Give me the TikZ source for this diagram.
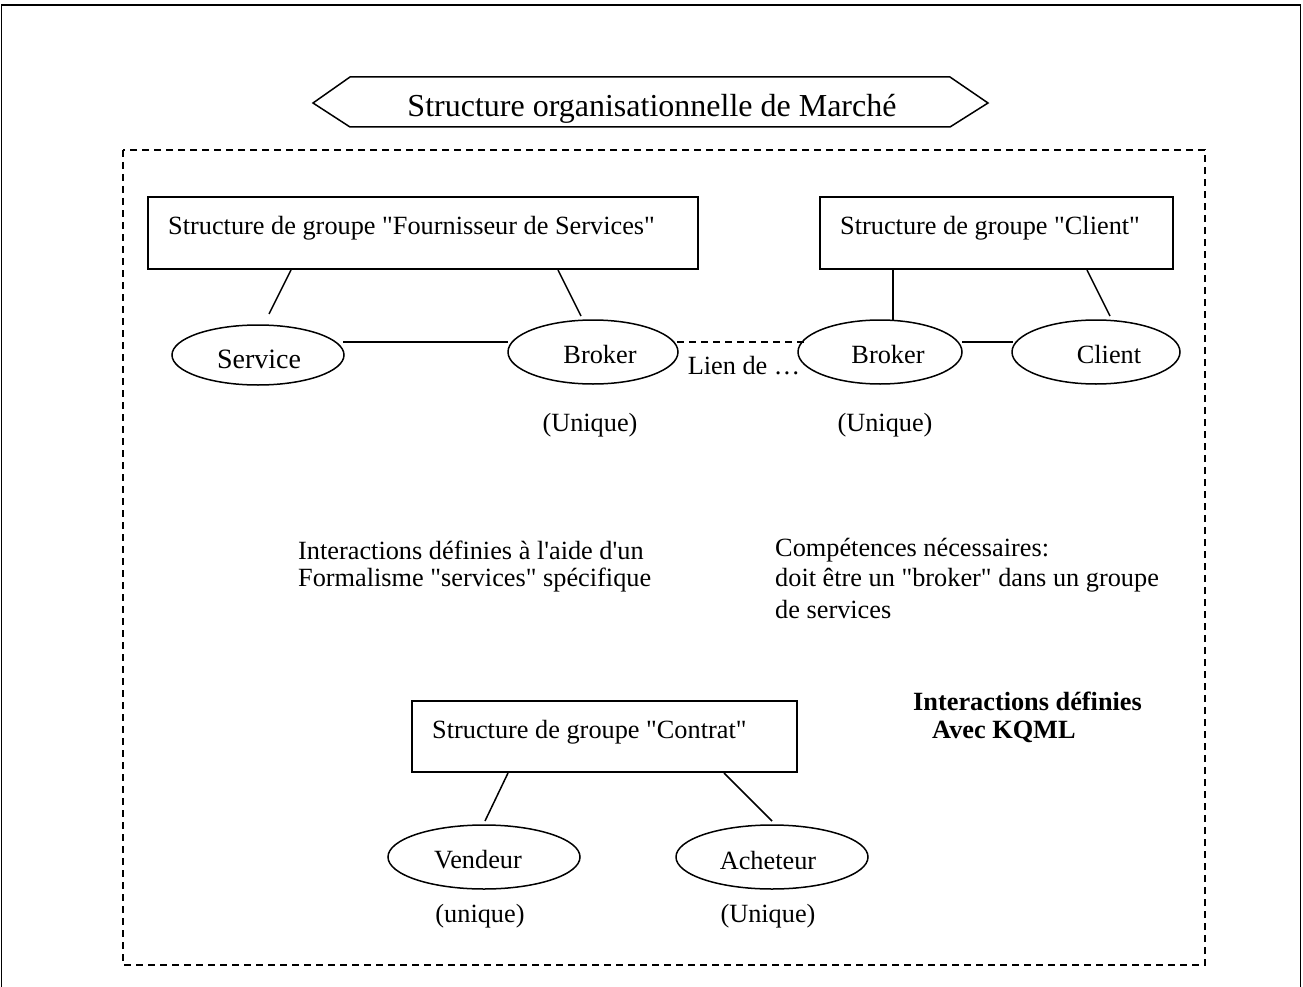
\documentclass[tikz,border=0pt]{standalone}
\usepackage{fontspec}
\setmainfont{Liberation Serif}[Ligatures=TeXOff]
\usetikzlibrary{shapes.geometric}
\tikzset{
  frame/.style={draw, line width=1.5pt},
  grpbox/.style={draw, line width=1.5pt},
  role/.style={draw, ellipse, line width=1.5pt, inner sep=0pt},
  link/.style={line width=1.5pt},
  dlink/.style={line width=1.5pt, dash pattern=on 7pt off 5pt},
  txt/.style={inner sep=0pt, yshift=-3pt, font=\fontsize{26.3}{31}\selectfont},
  ltxt/.style={txt, anchor=west},
}
\begin{document}
\begin{tikzpicture}[x=1pt, y=-1pt]
\useasboundingbox (0,0) rectangle (1303,987);
% outer page frame
\draw[frame] (1.5,987) -- (1.5,5) -- (1300.5,5) -- (1300.5,987);

% title banner
\draw[line width=1.5pt] (313,103) -- (350,77) -- (950,77) -- (988,103) -- (950,127) -- (350,127) -- cycle;
\node[inner sep=0pt, yshift=-3pt, font=\fontsize{32}{38}\selectfont] (title) at (652,106) {Structure organisationnelle de Marché};

% market area
\draw[dlink] (123,150) rectangle (1205,965);

% group structures
\draw[grpbox] (148,197) rectangle (698,269);
\node[ltxt] (fourn) at (168,225) {Structure de groupe "Fournisseur de Services"};
\draw[grpbox] (820,197) rectangle (1173,269);
\node[ltxt] (client) at (840,225) {Structure de groupe "Client"};
\draw[grpbox] (412,701) rectangle (797,772);
\node[ltxt] (contrat) at (432,729) {Structure de groupe "Contrat"};

% roles
\node[role, minimum width=172pt, minimum height=60pt] (eService) at (258,355) {};
\node[txt, font=\fontsize{28}{33}\selectfont] (service) at (259,356) {Service};
\node[role, minimum width=170pt, minimum height=64pt] (eBrokerA) at (593,352) {};
\node[txt] (brokerA) at (600,352) {Broker};
\node[role, minimum width=164pt, minimum height=64pt] (eBrokerB) at (880,352) {};
\node[txt] (brokerB) at (888,352) {Broker};
\node[role, minimum width=168pt, minimum height=64pt] (eClient) at (1096,352) {};
\node[txt] (cli) at (1109,352) {Client};
\node[role, minimum width=192pt, minimum height=64pt] (eVendeur) at (484,857) {};
\node[txt] (vendeur) at (478,857) {Vendeur};
\node[role, minimum width=192pt, minimum height=64pt] (eAcheteur) at (772,857) {};
\node[txt] (acheteur) at (768,857) {Acheteur};

% links between groups and roles
\coordinate (f1) at (291,270); \coordinate (s1) at (269,314);
\coordinate (f2) at (558,270); \coordinate (b1) at (581,316);
\coordinate (c1) at (893,270); \coordinate (b2) at (893,320);
\coordinate (c2) at (1087,270); \coordinate (cl1) at (1110,316);
\coordinate (k1) at (508,773); \coordinate (v1) at (485,821);
\coordinate (k2) at (724,773); \coordinate (a1) at (772,821);
\draw[link] (f1) -- (s1);
\draw[link] (f2) -- (b1);
\draw[link] (c1) -- (b2);
\draw[link] (c2) -- (cl1);
\draw[link] (k1) -- (v1);
\draw[link] (k2) -- (a1);

% links between roles
\coordinate (sr) at (343,342); \coordinate (bl) at (508,342);
\coordinate (br) at (677,342); \coordinate (bbl) at (808,342);
\coordinate (bbr) at (962,342); \coordinate (cll) at (1013,342);
\draw[link] (sr) -- (bl);
\draw[dlink] (br) -- (bbl);
\draw[link] (bbr) -- (cll);

% annotations
\node[txt] (lien) at (744,363) {Lien de …};
\node[txt] (u1) at (590,422) {(Unique)};
\node[txt] (u2) at (885,422) {(Unique)};
\node[txt] (u3) at (480,913) {(unique)};
\node[txt] (u4) at (768,913) {(Unique)};
\node[ltxt] (int1) at (298,547) {Interactions définies à l'aide d'un};
\node[ltxt] (int2) at (298,577) {Formalisme "services" spécifique};
\node[ltxt] (comp1) at (775,547) {Compétences nécessaires:};
\node[ltxt] (comp2) at (775,577) {doit être un "broker" dans un groupe};
\node[ltxt] (comp3) at (775,606) {de services};
\node[ltxt, font=\fontsize{26.3}{31}\selectfont\bfseries] (kq1) at (913,698) {Interactions définies};
\node[ltxt, font=\fontsize{26.3}{31}\selectfont\bfseries] (kq2) at (932,729) {Avec KQML};
\end{tikzpicture}
\end{document}
